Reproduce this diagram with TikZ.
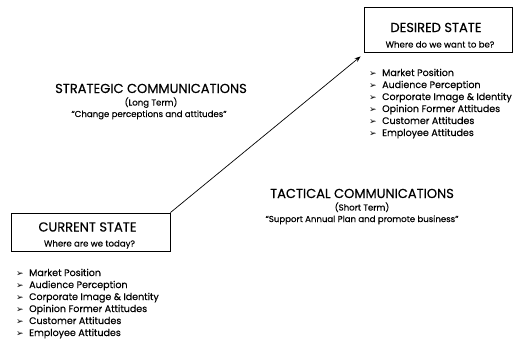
\documentclass[tikz,border=0pt]{standalone}
\usepackage{fontspec}
\usetikzlibrary{arrows.meta}
\setmainfont{Poppins}[FakeBold=0.35]
\newfontfamily\bulletfont{DejaVu Sans}
\tikzset{
  big/.style={font=\fontsize{13}{14}\selectfont, inner sep=0pt, anchor=base},
  small/.style={font=\fontsize{8.6}{10}\selectfont, inner sep=0pt, anchor=base},
  item/.style={font=\fontsize{9.5}{11}\selectfont, inner sep=0pt, anchor=base west},
  bul/.style={font=\bulletfont\fontsize{9}{9}\selectfont, inner sep=0pt, anchor=base west},
  statebox/.style={draw, line width=0.8pt, inner sep=0pt},
}
\begin{document}
\begin{tikzpicture}[x=1pt,y=-1pt]
\useasboundingbox (0,0) rectangle (520,340);
% current state
\node[statebox, minimum width=159pt, minimum height=38pt] (cur) at (90.5,232) {};
\node[big] (curT) at (87.5,231.5) {CURRENT STATE};
\node[small] (curS) at (89.5,246.5) {Where are we today?};
\foreach \t [count=\i] in {Market Position,Audience Perception,Corporate Image \& Identity,Opinion Former Attitudes,Customer Attitudes,Employee Attitudes}{
  \node[bul] (cb\i) at (16,{276+12*(\i-1)}) {➢};
  \node[item] (ct\i) at (29,{276+12*(\i-1)}) {\t};
}
% desired state
\node[statebox, minimum width=148pt, minimum height=45pt] (des) at (438,29.5) {};
\node[big] (desT) at (436,32) {DESIRED STATE};
\node[small] (desS) at (440,47.5) {Where do we want to be?};
\foreach \t [count=\i] in {Market Position,Audience Perception,Corporate Image \& Identity,Opinion Former Attitudes,Customer Attitudes,Employee Attitudes}{
  \node[bul] (db\i) at (369,{76+12*(\i-1)}) {➢};
  \node[item] (dt\i) at (382,{76+12*(\i-1)}) {\t};
}
% arrow
\draw[-{Stealth[length=6pt,width=4.5pt]}, line width=0.7pt] (cur.north east) -- ([shift={(-3,4)}]des.south west);
% strategic
\node[big] (st1) at (151,93) {STRATEGIC COMMUNICATIONS};
\node[small] (st2) at (151,105.5) {(Long Term)};
\node[small] (st3) at (149,117) {“Change perceptions and attitudes”};
% tactical
\node[big] (ta1) at (362,198) {TACTICAL COMMUNICATIONS};
\node[small] (ta2) at (362,210.5) {(Short Term)};
\node[small] (ta3) at (362,222) {“Support Annual Plan and promote business”};
\end{tikzpicture}
\end{document}
